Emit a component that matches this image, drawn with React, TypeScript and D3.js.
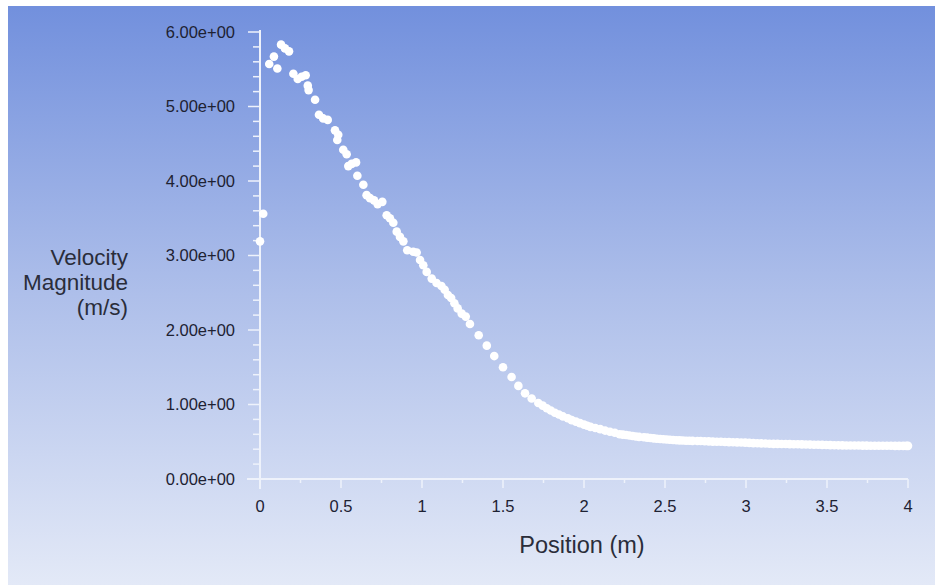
import React from "react";
import * as d3 from "d3";

// positions (m) and velocity magnitudes (m/s)
const positions = [
  0.0, 0.02, 0.057, 0.086, 0.107, 0.13, 0.154, 0.179, 0.206, 0.233, 0.257, 0.282, 0.295, 0.3,
  0.34, 0.364, 0.39, 0.418, 0.463, 0.477, 0.483, 0.514, 0.535, 0.545, 0.566, 0.593, 0.601,
  0.638, 0.658, 0.679, 0.704, 0.726, 0.755, 0.782, 0.802, 0.823, 0.844, 0.864, 0.885, 0.909,
  0.946, 0.967, 0.988, 1.008, 1.029, 1.06, 1.09, 1.12, 1.14, 1.16, 1.18, 1.2, 1.22, 1.245,
  1.27, 1.296, 1.35, 1.4, 1.446, 1.5, 1.553, 1.595, 1.636, 1.677, 1.718, 1.745, 1.77, 1.795,
  1.82, 1.845, 1.87, 1.9, 1.924, 1.95, 1.975, 2.0, 2.02, 2.04, 2.07, 2.1, 2.13, 2.16, 2.19, 2.22,
  2.24, 2.26, 2.28, 2.3, 2.32, 2.34, 2.37, 2.39, 2.41, 2.43, 2.45, 2.47, 2.49, 2.51, 2.53, 2.55,
  2.57, 2.59, 2.61, 2.63, 2.65, 2.67, 2.7, 2.72, 2.745, 2.77, 2.795, 2.82, 2.845, 2.87, 2.895,
  2.92, 2.945, 2.97, 2.995, 3.02, 3.045, 3.07, 3.095, 3.12, 3.145, 3.17, 3.195, 3.22, 3.245,
  3.27, 3.295, 3.32, 3.345, 3.37, 3.395, 3.42, 3.445, 3.47, 3.495, 3.52, 3.545, 3.57, 3.595,
  3.62, 3.645, 3.67, 3.695, 3.72, 3.745, 3.77, 3.795, 3.82, 3.845, 3.87, 3.895, 3.92, 3.945,
  3.97, 3.99, 4.0,
];
const velocities = [
  3.19, 3.56, 5.57, 5.67, 5.51, 5.83, 5.78, 5.74, 5.44, 5.37, 5.4, 5.42, 5.28, 5.22,
  5.09, 4.89, 4.84, 4.82, 4.68, 4.55, 4.62, 4.42, 4.36, 4.2, 4.23, 4.25, 4.07,
  3.95, 3.81, 3.77, 3.74, 3.69, 3.72, 3.54, 3.5, 3.44, 3.32, 3.25, 3.19, 3.07,
  3.05, 3.04, 2.94, 2.87, 2.78, 2.69, 2.63, 2.59, 2.54, 2.47, 2.43, 2.36, 2.29, 2.22,
  2.18, 2.08, 1.93, 1.79, 1.65, 1.5, 1.37, 1.25, 1.15, 1.08, 1.02, 0.985, 0.95, 0.92,
  0.89, 0.865, 0.84, 0.815, 0.79, 0.77, 0.75, 0.73, 0.715, 0.7, 0.685, 0.67, 0.65, 0.635, 0.62, 0.6,
  0.596, 0.59, 0.584, 0.577, 0.571, 0.565, 0.56, 0.555, 0.55, 0.545, 0.541, 0.537, 0.533, 0.53, 0.526, 0.523,
  0.52, 0.518, 0.516, 0.514, 0.513, 0.512, 0.511, 0.51, 0.507, 0.505, 0.502, 0.5, 0.499, 0.497, 0.495,
  0.493, 0.491, 0.49, 0.488, 0.485, 0.482, 0.48, 0.478, 0.476, 0.474, 0.472, 0.471, 0.47, 0.469,
  0.468, 0.467, 0.466, 0.465, 0.463, 0.462, 0.46, 0.459, 0.458, 0.457, 0.455, 0.454, 0.452, 0.451,
  0.45, 0.45, 0.449, 0.449, 0.448, 0.448, 0.447, 0.447, 0.446, 0.446, 0.446, 0.446, 0.445, 0.445,
  0.445, 0.445, 0.445,
];

const xTicks = [0, 0.5, 1, 1.5, 2, 2.5, 3, 3.5, 4];
const xTickLabels = ["0", "0.5", "1", "1.5", "2", "2.5", "3", "3.5", "4"];
const yTicks = [0, 1, 2, 3, 4, 5, 6];
const yTickLabels = ["0.00e+00", "1.00e+00", "2.00e+00", "3.00e+00", "4.00e+00", "5.00e+00", "6.00e+00"];
const yTitle = ["Velocity", "Magnitude", "(m/s)"];
const xTitle = "Position (m)";

const W = 935;
const H = 585;
const axisColor = "#eef2fb";
const font = "'Liberation Sans', Arial, sans-serif";

export default function App() {
  const x = d3.scaleLinear().domain([0, 4]).range([260, 908]);
  const y = d3.scaleLinear().domain([0, 6]).range([479, 32]);

  const xMinor = d3.range(0, 4.001, 0.25).filter((v) => Math.abs(v * 2 - Math.round(v * 2)) > 0.01);
  const yMinor = d3.range(0, 6.001, 0.2).filter((v) => Math.abs(v - Math.round(v)) > 0.01);

  return (
    <svg
      width={W}
      height={H}
      style={{ position: "absolute", left: 0, top: 0, display: "block" }}
      fontFamily={font}
    >
      <defs>
        <linearGradient id="bg" x1="0" y1="0" x2="0" y2="1">
          <stop offset="0%" stopColor="#7290dd" />
          <stop offset="50%" stopColor="#aebfea" />
          <stop offset="100%" stopColor="#e3e9f7" />
        </linearGradient>
      </defs>
      <rect x={0} y={0} width={W} height={H} fill="#ffffff" />
      <rect x={8} y={6} width={W - 8} height={H - 6} fill="url(#bg)" />

      {/* y axis */}
      <line x1={x(0)} x2={x(0)} y1={y(6) - 2} y2={y(0) + 10} stroke={axisColor} strokeWidth={2} />
      {yTicks.map((t, i) => (
        <g key={"yt" + i}>
          <line x1={x(0) - 12} x2={x(0)} y1={y(t)} y2={y(t)} stroke={axisColor} strokeWidth={1.5} />
          <text x={235} y={y(t)} dy="0.36em" textAnchor="end" fontSize={16.5} fill="#1e2233">
            {yTickLabels[i]}
          </text>
        </g>
      ))}
      {yMinor.map((t, i) => (
        <line key={"ym" + i} x1={x(0) - 7} x2={x(0)} y1={y(t)} y2={y(t)} stroke={axisColor} strokeWidth={1.5} />
      ))}

      {/* x axis */}
      <line x1={x(0) - 13} x2={x(4)} y1={y(0)} y2={y(0)} stroke={axisColor} strokeWidth={2} />
      {xTicks.map((t, i) => (
        <g key={"xt" + i}>
          <line x1={x(t)} x2={x(t)} y1={y(0)} y2={y(0) + 9} stroke={axisColor} strokeWidth={1.5} />
          <text x={x(t)} y={512} textAnchor="middle" fontSize={16.5} fill="#1e2233">
            {xTickLabels[i]}
          </text>
        </g>
      ))}
      {xMinor.map((t, i) => (
        <line key={"xm" + i} x1={x(t)} x2={x(t)} y1={y(0)} y2={y(0) + 4} stroke={axisColor} strokeWidth={1.5} />
      ))}

      {/* titles */}
      {yTitle.map((s, i) => (
        <text key={"ytl" + i} x={128} y={265 + i * 25} textAnchor="end" fontSize={22.5} fill="#2a2d3a">
          {s}
        </text>
      ))}
      <text x={582} y={553} textAnchor="middle" fontSize={23.5} fill="#2a2d3a">
        {xTitle}
      </text>

      {/* points */}
      {positions.map((p, i) => (
        <circle key={"p" + i} cx={x(p)} cy={y(velocities[i])} r={4.3} fill="#ffffff" />
      ))}
    </svg>
  );
}
